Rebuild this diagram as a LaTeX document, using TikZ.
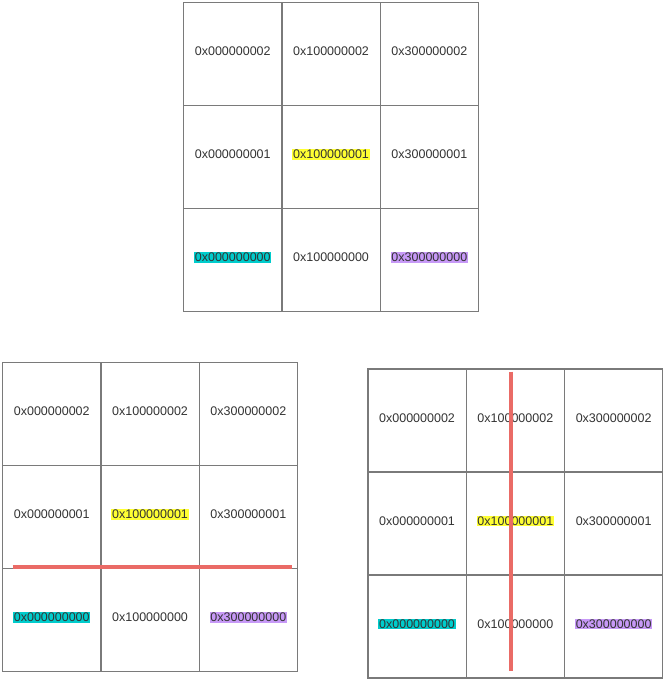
\documentclass[tikz,border=0pt]{standalone}
\usepackage{fontspec}
\setmainfont{Liberation Sans}
\definecolor{gridc}{HTML}{7A7A7A}
\definecolor{txt}{HTML}{333333}
\definecolor{hcyan}{HTML}{00CCCC}
\definecolor{hyellow}{HTML}{FFFF33}
\definecolor{hpurple}{HTML}{C799F7}
\definecolor{cutc}{HTML}{EA6B66}
\newcommand\cellgrid[3]{%
  \foreach \c in {0,1,2}{\foreach \r in {0,1,2}{%
    \node[cell] (#1-\r-\c) at ({#2+\c*98.3},{#3+\r*103}) {};}}%
  \node[lbl] at ([yshift=2.5pt]#1-0-0.center) {0x000000002};
  \node[lbl] at ([yshift=2.5pt]#1-0-1.center) {0x100000002};
  \node[lbl] at ([yshift=2.5pt]#1-0-2.center) {0x300000002};
  \node[lbl] at ([yshift=2.5pt]#1-1-0.center) {0x000000001};
  \node[lbl,fill=hyellow] at ([yshift=2.5pt]#1-1-1.center) {0x100000001};
  \node[lbl] at ([yshift=2.5pt]#1-1-2.center) {0x300000001};
  \node[lbl,fill=hcyan] at ([yshift=2.5pt]#1-2-0.center) {0x000000000};
  \node[lbl] at ([yshift=2.5pt]#1-2-1.center) {0x100000000};
  \node[lbl,fill=hpurple] at ([yshift=2.5pt]#1-2-2.center) {0x300000000};
}
\begin{document}
\begin{tikzpicture}[x=1pt,y=-1pt,
  cell/.style={draw=gridc, line width=1.2pt, minimum width=98.3pt, minimum height=103pt, inner sep=0pt, anchor=north west},
  lbl/.style={text=txt, font=\fontsize{12.5}{14}\selectfont, inner sep=0.8pt},
  cutline/.style={draw=cutc, line width=4pt}]
\useasboundingbox (0,0) rectangle (664,682);
\cellgrid{top}{183}{2}
\cellgrid{bl}{2}{361.7}
\cellgrid{br}{367.3}{368.3}
\coordinate (h1) at (12.7,567);
\coordinate (h2) at (292.3,567);
\draw[cutline] (h1) -- (h2);
\coordinate (v1) at (511,371.7);
\coordinate (v2) at (511,670.7);
\draw[cutline] (v1) -- (v2);
\end{tikzpicture}
\end{document}
